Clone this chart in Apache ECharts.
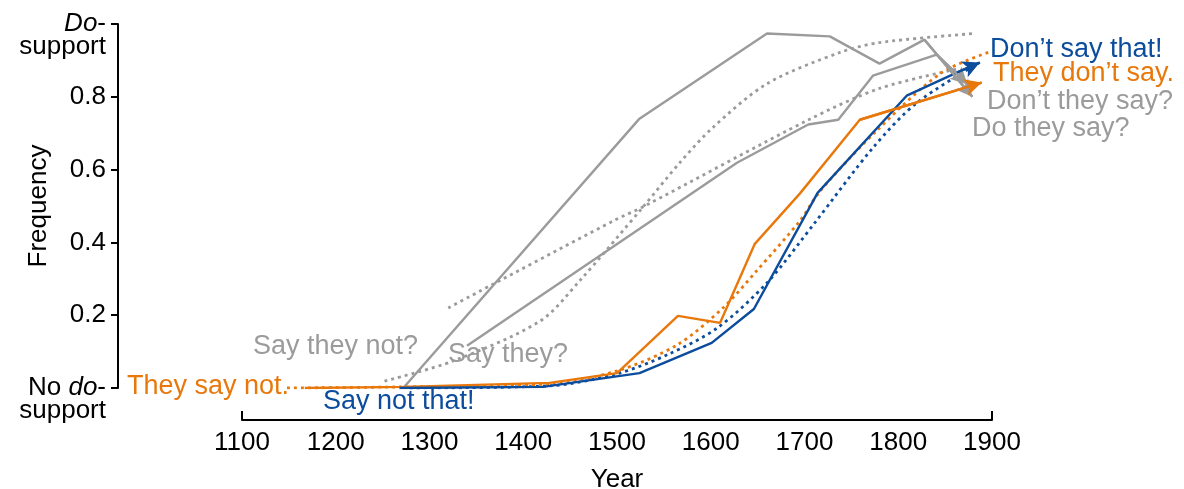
<!DOCTYPE html>
<html><head><meta charset="utf-8">
<script src="https://cdn.jsdelivr.net/npm/echarts@6/dist/echarts.min.js"></script>
<style>html,body{margin:0;padding:0;background:#fff}#c{width:1184px;height:489px}</style>
</head><body><div id="c"></div>
<script>
// ---- data ----
const xTickValues = [1100, 1200, 1300, 1400, 1500, 1600, 1700, 1800, 1900];
const yTickValues = [0, 0.2, 0.4, 0.6, 0.8, 1];

// Negative declaratives: "They say not." -> "They don't say."
const negDeclYears = [1167, 1272, 1428, 1500, 1565, 1610, 1647, 1695, 1759, 1889];
const negDeclVals  = [0.0, 0.003, 0.014, 0.041, 0.198, 0.179, 0.396, 0.534, 0.737, 0.839];
const negDeclFitYears = [1148, 1272, 1428, 1500, 1564, 1613, 1649, 1695, 1717, 1777, 1845, 1896];
const negDeclFitVals  = [0.0, 0.003, 0.011, 0.047, 0.118, 0.220, 0.322, 0.459, 0.542, 0.707, 0.864, 0.922];

// Negative imperatives: "Say not that!" -> "Don't say that!"
const negImpYears = [1268, 1421, 1524, 1601, 1646, 1714, 1809, 1863, 1887];
const negImpVals  = [0.0, 0.003, 0.041, 0.124, 0.217, 0.536, 0.803, 0.867, 0.894];
const negImpFitYears = [1279, 1428, 1500, 1556, 1607, 1660, 1711, 1773, 1820, 1885];
const negImpFitVals  = [0.0, 0.006, 0.039, 0.094, 0.165, 0.289, 0.454, 0.660, 0.784, 0.891];

// Negative questions: "Say they not?" -> "Don't they say?"
const negQYears = [1272, 1524, 1660, 1727, 1780, 1828, 1879];
const negQVals  = [0.0, 0.74, 0.974, 0.966, 0.891, 0.957, 0.80];
const negQFitYears = [1252, 1325, 1418, 1460, 1528, 1567, 1602, 1660, 1738, 1780, 1882];
const negQFitVals  = [0.019, 0.074, 0.184, 0.294, 0.498, 0.619, 0.715, 0.836, 0.922, 0.949, 0.974];

// Affirmative questions: "Say they?" -> "Do they say?"
const affQYears = [1340, 1628, 1704, 1736, 1773, 1841, 1874];
const affQVals  = [0.116, 0.619, 0.724, 0.737, 0.858, 0.916, 0.834];
const affQFitYears = [1320, 1496, 1528, 1703, 1780, 1866];
const affQFitVals  = [0.220, 0.459, 0.498, 0.735, 0.823, 0.878];

// ---- style ----
const GRAY = '#9b9b9b', ORANGE = '#e8780c', BLUE = '#0b4c9c';
const FONT = '"Liberation Sans", Arial, Helvetica, sans-serif';

function pairs(xs, ys) { return xs.map((x, i) => [x, ys[i]]); }

function solid(name, xs, ys, color) {
  const n = xs.length;
  return {
    name, type: 'line', data: pairs(xs, ys), symbol: 'none', z: 3,
    lineStyle: { color, width: 2.4 }, itemStyle: { color },
    markLine: {
      silent: true, animation: false,
      symbol: ['none', 'arrow'], symbolSize: [13, 17],
      label: { show: false },
      lineStyle: { color, width: 2.4, type: 'solid' },
      data: [[{ coord: [xs[n - 2], ys[n - 2]] }, { coord: [xs[n - 1], ys[n - 1]] }]]
    }
  };
}
function dotted(name, xs, ys, color) {
  return {
    name, type: 'line', data: pairs(xs, ys), symbol: 'none', smooth: 0.3, z: 2,
    lineStyle: { color, width: 2.8, type: [3, 4], cap: 'butt' }, itemStyle: { color }
  };
}

function txt(text, x, y, color) {
  return { type: 'text', z: 1, style: { text, x, y, fill: color, font: '27px ' + FONT,
    textAlign: 'left', textVerticalAlign: 'middle', align: 'left', verticalAlign: 'middle' } };
}

const chart = echarts.init(document.getElementById('c'), null, { renderer: 'canvas' });
chart.setOption({
  animation: false,
  backgroundColor: '#fff',
  textStyle: { fontFamily: FONT },
  grid: { left: 242, right: 192, top: 24, bottom: 101, containLabel: false, outerBoundsMode: 'none' },
  xAxis: {
    type: 'value', min: 1100, max: 1900, interval: 100, offset: 32,
    name: 'Year', nameLocation: 'middle', nameGap: 47, nameMoveOverlap: false,
    nameTextStyle: { color: '#000', fontSize: 26, fontFamily: FONT },
    axisLine: { show: true, onZero: false, lineStyle: { color: '#000', width: 2 } },
    axisTick: { show: true, inside: true, length: 9, customValues: [1100, 1900], lineStyle: { color: '#000', width: 2 } },
    axisLabel: { color: '#000', fontSize: 26, margin: 10, fontFamily: FONT, customValues: xTickValues,
      formatter: function (v) { return String(v); } },
    splitLine: { show: false }
  },
  yAxis: {
    type: 'value', min: 0, max: 1, interval: 0.2, offset: 124,
    name: 'Frequency', nameLocation: 'middle', nameGap: 66, nameRotate: 90, nameMoveOverlap: false,
    nameTextStyle: { color: '#000', fontSize: 26, fontFamily: FONT },
    axisLine: { show: true, onZero: false, lineStyle: { color: '#000', width: 2 } },
    axisTick: { show: true, inside: false, length: 7, customValues: yTickValues, lineStyle: { color: '#000', width: 2 } },
    axisLabel: {
      color: '#000', fontSize: 26, margin: 12, fontFamily: FONT, lineHeight: 23, align: 'right',
      customValues: yTickValues,
      formatter: function (v) {
        if (Math.abs(v - 1) < 1e-9) return '{b| }\n{i|Do}{b|-}\n{b|support}';
        if (Math.abs(v) < 1e-9) return '{b| }\n{b|No }{i|do}{b|-}\n{b|support}';
        return v.toFixed(1);
      },
      rich: {
        b: { fontSize: 26, lineHeight: 23, color: '#000', fontFamily: FONT },
        i: { fontSize: 26, lineHeight: 23, color: '#000', fontStyle: 'italic', fontFamily: FONT }
      }
    },
    splitLine: { show: false }
  },
  graphic: [
    txt("Don\u2019t say that!", 990, 50, BLUE),
    txt("They don\u2019t say.", 993, 74, ORANGE),
    txt("Don\u2019t they say?", 987, 102, GRAY),
    txt("Do they say?", 972, 129, GRAY),
    txt("Say they not?", 253, 347, GRAY),
    txt("Say they?", 448, 355, GRAY),
    txt("They say not.", 127, 387, ORANGE),
    txt("Say not that!", 323, 402, BLUE)
  ],
  series: [
    dotted('Affirmative questions (fit)', affQFitYears, affQFitVals, GRAY),
    dotted('Negative questions (fit)', negQFitYears, negQFitVals, GRAY),
    solid('Affirmative questions', affQYears, affQVals, GRAY),
    solid('Negative questions', negQYears, negQVals, GRAY),
    dotted('Negative declaratives (fit)', negDeclFitYears, negDeclFitVals, ORANGE),
    dotted('Negative imperatives (fit)', negImpFitYears, negImpFitVals, BLUE),
    solid('Negative declaratives', negDeclYears, negDeclVals, ORANGE),
    solid('Negative imperatives', negImpYears, negImpVals, BLUE)
  ]
});
</script></body></html>
